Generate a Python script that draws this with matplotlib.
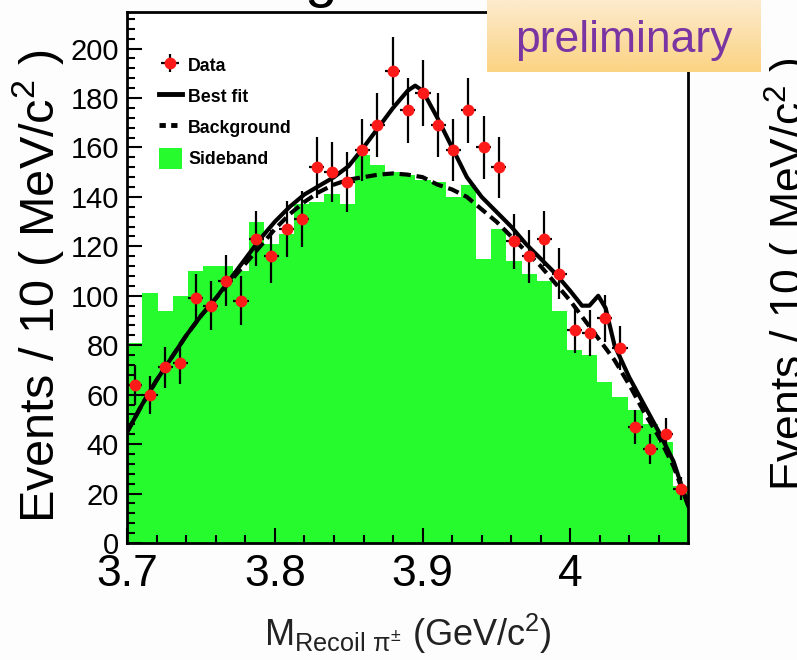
import numpy as np
import matplotlib.pyplot as plt
from matplotlib.lines import Line2D
from matplotlib.patches import Patch
from matplotlib.colors import LinearSegmentedColormap

# binning of the frame: 37 bins between 3.70 and 4.08 GeV
x_lo, x_hi, n_bins = 3.70, 4.08, 37

data_counts = [64, 60, 71, 73, 99, 96, 106, 98, 123, 116, 127, 131, 152, 150,
               146, 159, 169, 191, 175, 182, 169, 159, 175, 160, 152, 122, 116,
               123, 109, 86, 85, 91, 79, 47, 38, 44, 22]
data_err = [8.0, 7.7, 8.4, 8.5, 9.9, 9.8, 10.3, 9.9, 11.1, 10.8, 11.3, 11.4,
            12.3, 12.2, 12.1, 12.6, 13.0, 13.8, 13.2, 13.5, 13.0, 12.6, 13.2,
            12.6, 12.3, 11.0, 10.8, 11.1, 10.4, 9.3, 9.2, 9.5, 8.9, 6.9, 6.2,
            6.6, 4.7]
sideband_counts = [81, 101, 94, 100, 110, 112, 112, 110, 130, 121, 125, 137,
                   138, 141, 137, 157, 153, 150, 149, 147, 146, 140, 145, 115,
                   127, 114, 109, 106, 94, 78, 76, 65, 59, 54, 48, 41, 23]

fit_x = [3.700, 3.710, 3.720, 3.730, 3.740, 3.750, 3.760, 3.770, 3.780, 3.790,
         3.800, 3.810, 3.820, 3.830, 3.840, 3.850, 3.860, 3.870, 3.880, 3.890,
         3.895, 3.900, 3.910, 3.920, 3.930, 3.940, 3.950, 3.960, 3.970, 3.980,
         3.990, 4.000, 4.008, 4.013, 4.019, 4.024, 4.030, 4.040, 4.050, 4.060,
         4.070, 4.080]
fit_y = [45, 56, 66, 75, 84, 92, 99, 107, 115, 123, 130, 136, 141, 144.5, 148,
         152.5, 160, 168, 176, 183, 185, 183, 172, 160, 148, 140, 134, 128, 121,
         115, 109, 102, 96, 96, 100, 95, 80, 67, 56, 45, 33, 15]

bkg_x = [3.700, 3.710, 3.720, 3.730, 3.740, 3.750, 3.760, 3.770, 3.780, 3.790,
         3.800, 3.810, 3.820, 3.830, 3.840, 3.850, 3.860, 3.870, 3.880, 3.890,
         3.900, 3.910, 3.920, 3.930, 3.940, 3.950, 3.960, 3.970, 3.980, 3.990,
         4.000, 4.010, 4.020, 4.030, 4.040, 4.050, 4.060, 4.070, 4.080]
bkg_y = [45, 56, 66, 75, 84, 92, 99, 106, 113, 120, 127, 133, 138, 142, 145,
         147, 148, 149, 149.5, 149, 148, 145, 143, 140, 135, 130, 124, 118, 112,
         105, 98, 90, 82, 74, 64, 53, 43, 31, 15]

x_ticks = [3.7, 3.8, 3.9, 4.0]
x_tick_labels = ['3.7', '3.8', '3.9', '4']
y_ticks = [0, 20, 40, 60, 80, 100, 120, 140, 160, 180, 200]
y_title = 'Events / 10 ( MeV/c$^{2}$ )'

green = '#26fb2e'
red = '#ff1a1a'
narrow = ['Liberation Sans Narrow', 'Liberation Sans', 'DejaVu Sans']
plt.rcParams['font.family'] = ['Liberation Sans', 'DejaVu Sans']
plt.rcParams['mathtext.default'] = 'regular'

edges = np.linspace(x_lo, x_hi, n_bins + 1)
centers = 0.5 * (edges[1:] + edges[:-1])
half = 0.5 * (edges[1] - edges[0])

W, H = 797, 660
fig = plt.figure(figsize=(W / 100, H / 100), dpi=100, facecolor='#fdfdfd')
ax = fig.add_axes([127.3 / W, (H - 543) / H, (688.3 - 127.3) / W, (543 - 11.5) / H])
ax.set_facecolor('white')

ax.stairs(sideband_counts, edges, fill=True, color=green, zorder=1)
ax.plot(bkg_x, bkg_y, color='k', lw=3, ls=(0, (2.7, 1.4)), zorder=3)
ax.plot(fit_x, fit_y, color='k', lw=3, zorder=4)
eb = ax.errorbar(centers, data_counts, yerr=data_err, xerr=half, fmt='o',
                 color=red, ms=8.5, mew=0, ecolor='k', elinewidth=1.6,
                 capsize=2.5, capthick=1.6, zorder=5)

ax.set_xlim(x_lo, x_hi)
ax.set_ylim(0, 215)
ax.set_xticks(x_ticks)
ax.set_xticklabels(x_tick_labels, family=narrow, fontsize=32)
ax.set_xticks(np.arange(3.72, 4.08, 0.02), minor=True)
ax.set_yticks(y_ticks)
ax.set_yticks(np.arange(0, 215, 4), minor=True)
ax.tick_params(which='both', direction='in', top=False, right=False, width=1.5)
ax.tick_params(axis='x', which='major', length=11, pad=8)
ax.tick_params(axis='x', which='minor', length=6)
ax.tick_params(axis='y', which='major', length=11, pad=6, labelsize=21)
ax.tick_params(axis='y', which='minor', length=5.5)
for s in ax.spines.values():
    s.set_linewidth(2)

ax.set_xlabel(r'M$_{Recoil\ \pi^{\pm}}$ (GeV/c$^{2}$)', family=narrow,
              fontsize=26, labelpad=12, color='#222222')
fig.text(38 / W, 0.567, y_title, rotation=90, ha='center', va='center',
         fontsize=35)
fig.text(789 / W, 0.585, y_title, rotation=90, ha='center', va='center',
         fontsize=32)
# descender of the slide title above the plot
fig.text(321 / W, 1 + 4 / H, 'g', ha='center', va='baseline', fontsize=42)

handles = [eb,
           Line2D([], [], color='k', lw=3.5),
           Line2D([], [], color='k', lw=3.5, ls=(0, (1.3, 1.1))),
           Patch(facecolor=green, edgecolor='none')]
labels = ['Data', 'Best fit', 'Background', 'Sideband']
ax.legend(handles, labels, loc='upper left', bbox_to_anchor=(0.04, 0.935),
          frameon=False, prop={'size': 12.8, 'weight': 'bold'},
          handlelength=1.3, handleheight=1.45, handletextpad=0.35,
          labelspacing=0.55, borderpad=0)

# "preliminary" stamp in the slide
box = fig.add_axes([487 / W, (H - 72) / H, 274 / W, 72 / H])
grad = np.linspace(0, 1, 64).reshape(-1, 1)
cmap = LinearSegmentedColormap.from_list('stamp', ['#fdebcd', '#fbd383'])
box.imshow(grad, aspect='auto', cmap=cmap, extent=(0, 1, 0, 1), origin='upper')
box.set_axis_off()
box.text(0.5, 0.28, 'preliminary', ha='center', va='baseline',
         fontsize=32, color='#7a35a3', transform=box.transAxes)

fig.savefig('out.png', dpi=100, facecolor=fig.get_facecolor())
